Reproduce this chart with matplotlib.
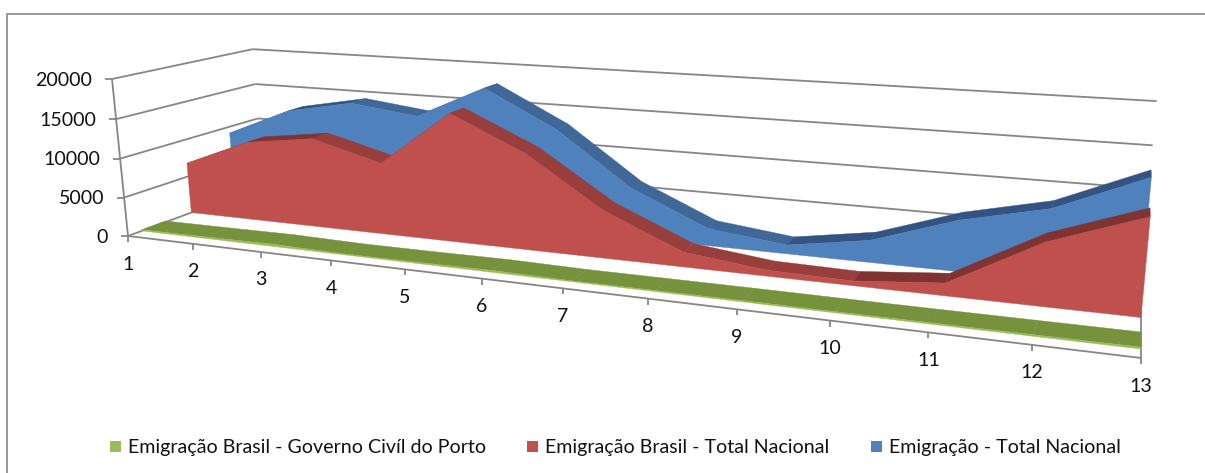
import matplotlib
matplotlib.use("Agg")
import numpy as np
import matplotlib.pyplot as plt
from matplotlib.patches import Polygon, Rectangle

plt.rcParams['font.family'] = ['Lato', 'DejaVu Sans']

categories = ['1', '2', '3', '4', '5', '6', '7', '8', '9', '10', '11', '12', '13']
value_ticks = [0, 5000, 10000, 15000, 20000]

porto = [150, 200, 280, 120, 150, 230, 110, 130, 150, 140, 150, 170, 190]
brasil = [6800, 10400, 11600, 9200, 16200, 12000, 5900, 1800, 700, 550, 1450, 7100, 10800]
total = [9100, 12900, 14600, 13500, 17800, 13100, 6400, 2200, 1100, 2700, 6100, 8400, 12800]

names = ['Emigração Brasil - Governo Civíl do Porto', 'Emigração Brasil - Total Nacional', 'Emigração - Total Nacional']
face_colors = ['#9BBB59', '#C0504D', '#4F81BD']
fall_colors = ['#76923C', '#983E3C', '#3F6797']
rise_colors = ['#76923C', '#7F3432', '#335482']
depths = [(0.09, 0.25), (0.434, 0.567), (0.767, 0.90)]

# perspective of the 3d box, fitted on the corners of the walls
ORIGIN = np.array([128.0, 236.0])
END_X = np.array([1141.0, 358.0])
END_V = np.array([112.0, 79.0])
END_W = np.array([263.0, 186.0])
G, H, I = -0.2475, -0.029, 0.1538


def project(cat, value, depth):
    u = cat / (len(categories) - 1)
    v = value / max(value_ticks)
    num = ORIGIN + ((1 + G) * END_X - ORIGIN) * u + ((1 + H) * END_V - ORIGIN) * v + ((1 + I) * END_W - ORIGIN) * depth
    return num / (1 + G * u + H * v + I * depth)


def line(ax, a, b, color='#868686', lw=1.3):
    ax.plot([a[0], b[0]], [a[1], b[1]], color=color, lw=lw, solid_capstyle='butt', zorder=1)


def draw_area(ax, values, depth, face, fall, rise, z):
    front, back = depth
    last = len(values) - 1
    # top of the ribbon first, the front face goes over it
    for k in range(last):
        quad = [project(k, values[k], front), project(k + 1, values[k + 1], front),
                project(k + 1, values[k + 1], back), project(k, values[k], back)]
        color = fall if values[k + 1] < values[k] else rise
        ax.add_patch(Polygon(quad, closed=True, fc=color, ec=color, lw=0.3, zorder=z))
    outline = [project(k, values[k], front) for k in range(last + 1)]
    outline += [project(last, 0, front), project(0, 0, front)]
    ax.add_patch(Polygon(outline, closed=True, fc=face, ec=face, lw=0.3, zorder=z + 0.5))


fig = plt.figure(figsize=(12.05, 4.73), dpi=100)
ax = fig.add_axes([0, 0, 1, 1])
ax.set_xlim(0, 1205)
ax.set_ylim(473, 0)
ax.axis('off')

# chart border, the picture is cut off on the right and at the bottom
ax.add_patch(Rectangle((7, 14), 1210, 470, fc='white', ec='#868686', lw=1.2, zorder=0))

last = len(categories) - 1
for val in value_ticks:
    corner = project(0, val, 1)
    line(ax, project(0, val, 0), corner)
    line(ax, corner, project(last, val, 1))
    start = project(0, val, 0)
    line(ax, start, start + np.array([-7, 0]))
    ax.text(start[0] - 20, start[1] + 1, str(val), ha='right', va='center', fontsize=14.1, color='#111111')

line(ax, project(0, 0, 0), project(0, max(value_ticks), 0))
line(ax, project(0, 0, 0), project(last, 0, 0))
line(ax, project(last, 0, 0), project(last, 0, 1))

for k, label in enumerate(categories):
    p = project(k, 0, 0)
    line(ax, p, p + np.array([0, 6]))
    ax.text(p[0], p[1] + 28, label, ha='center', va='center', fontsize=14.1, color='#111111')

draw_area(ax, total, depths[2], face_colors[2], fall_colors[2], rise_colors[2], 2)
draw_area(ax, brasil, depths[1], face_colors[1], fall_colors[1], rise_colors[1], 3)
draw_area(ax, porto, depths[0], face_colors[0], fall_colors[0], rise_colors[0], 4)

# legend
legend_x = [110, 527, 871]
for x, name, color in zip(legend_x, names, face_colors):
    ax.add_patch(Rectangle((x, 441), 11, 11, fc=color, ec='none', zorder=5))
    ax.text(x + 18, 447, name, ha='left', va='center', fontsize=14.1, color='#111111', zorder=5)

fig.savefig('out.png', dpi=100)
